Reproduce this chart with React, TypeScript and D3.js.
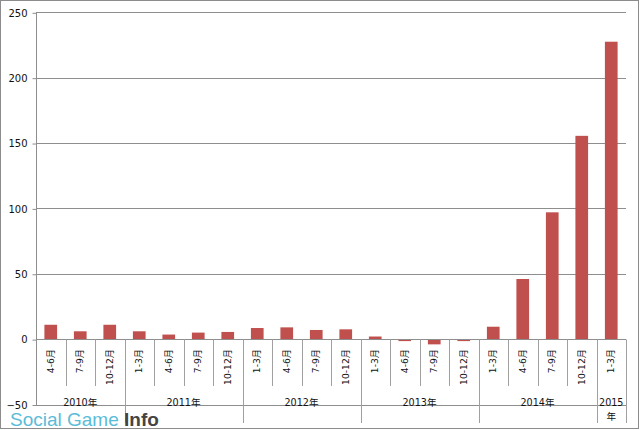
import { useEffect, useRef } from 'react';
import * as d3 from 'd3';

// quarter labels (x axis, inner level)
const quarters = [
    '4-6月', '7-9月', '10-12月',
    '1-3月', '4-6月', '7-9月', '10-12月',
    '1-3月', '4-6月', '7-9月', '10-12月',
    '1-3月', '4-6月', '7-9月', '10-12月',
    '1-3月', '4-6月', '7-9月', '10-12月',
    '1-3月',
];

// values per quarter
const values = [
    11, 6, 11,
    6, 3.5, 5, 5.5,
    8.5, 9, 7, 7.5,
    2, -1.5, -4, -1.5,
    9.5, 46, 97, 155.5,
    227.5,
];

// year groups (outer level) and how many quarters each spans
const years = ['2010年', '2011年', '2012年', '2013年', '2014年', '2015年'];
const yearSpans = [3, 4, 4, 4, 4, 1];

const yTicks = [-50, 0, 50, 100, 150, 200, 250];

const QuarterlyChart: React.FC = () => {
    const chartRef = useRef<SVGSVGElement>(null);

    useEffect(() => {
        if (chartRef.current) {
            createChart();
        }
    }, []);

    const createChart = () => {
        const svg = d3.select(chartRef.current);
        svg.selectAll('*').remove();

        const width = 640;
        const height = 430;
        const margin = { top: 12, right: 14, left: 36 };
        const font = "'DejaVu Sans', 'Noto Sans CJK JP', sans-serif";

        svg.attr('width', width).attr('height', height);

        svg.append('rect')
            .attr('x', 0.5).attr('y', 0.5)
            .attr('width', 638).attr('height', 428)
            .attr('fill', '#fff')
            .attr('stroke', '#8c8c8c');

        const idx = quarters.map((_, i) => i);
        const xScale = d3
            .scaleBand<number>()
            .domain(idx)
            .range([margin.left, width - margin.right])
            .paddingInner(0.57)
            .paddingOuter(0.285);
        const step = xScale.step();
        const x0 = margin.left;

        const yScale = d3.scaleLinear().domain([-50, 250]).range([404.5, 12.3]);
        const y0 = Math.round(yScale(0)) + 0.5;

        // gridlines
        svg.append('g')
            .selectAll('line')
            .data(yTicks)
            .enter()
            .append('line')
            .attr('x1', x0)
            .attr('x2', width - margin.right)
            .attr('y1', (d) => Math.round(yScale(d)) + 0.5)
            .attr('y2', (d) => Math.round(yScale(d)) + 0.5)
            .attr('stroke', '#8e8e8e')
            .attr('stroke-width', 1);

        // y axis
        const yAxis = d3.axisLeft(yScale).tickValues(yTicks).tickSize(4).tickPadding(5);
        const gy = svg.append('g')
            .attr('transform', `translate(${x0 + 0.5}, 0.5)`)
            .call(yAxis);
        gy.select('.domain').attr('stroke', '#8e8e8e').attr('d', `M0,${yScale(250)}V${yScale(-50)}`);
        gy.selectAll('.tick line').attr('stroke', '#8e8e8e');
        gy.selectAll('.tick text')
            .attr('font-family', font)
            .attr('font-size', 10)
            .attr('fill', '#111');

        // bars
        svg.append('g')
            .selectAll('rect')
            .data(values)
            .enter()
            .append('rect')
            .attr('x', (_, i) => xScale(i) || 0)
            .attr('y', (d) => yScale(Math.max(0, d)))
            .attr('width', xScale.bandwidth())
            .attr('height', (d) => Math.abs(yScale(d) - yScale(0)))
            .attr('fill', '#c0504d');

        // zero line on top
        svg.append('line')
            .attr('x1', x0).attr('x2', width - margin.right)
            .attr('y1', y0).attr('y2', y0)
            .attr('stroke', '#8e8e8e');

        // category separators
        const yearBounds = new Set<number>();
        let acc = 0;
        yearSpans.forEach((s) => { acc += s; yearBounds.add(acc); });
        const seps = d3.range(1, quarters.length + 1);
        svg.append('g')
            .selectAll('line')
            .data(seps)
            .enter()
            .append('line')
            .attr('x1', (i) => Math.round(x0 + i * step) + 0.5)
            .attr('x2', (i) => Math.round(x0 + i * step) + 0.5)
            .attr('y1', y0)
            .attr('y2', (i) => (yearBounds.has(i) ? 423 : 386))
            .attr('stroke', '#a0a0a0');

        // quarter labels
        svg.append('g')
            .selectAll('text')
            .data(quarters)
            .enter()
            .append('text')
            .attr('transform', (_, i) => `translate(${(xScale(i) || 0) + xScale.bandwidth() / 2},349) rotate(-90)`)
            .attr('dy', '0.35em')
            .attr('text-anchor', 'end')
            .attr('font-family', font)
            .attr('font-size', 9.2)
            .attr('fill', '#111')
            .text((d) => d);

        // year labels
        let start = 0;
        const yearG = svg.append('g');
        years.forEach((yr, k) => {
            const cx = x0 + (start + yearSpans[k] / 2) * step;
            const t = yearG.append('text')
                .attr('x', cx)
                .attr('y', 405.5)
                .attr('text-anchor', 'middle')
                .attr('font-family', font)
                .attr('font-size', 9.6)
                .attr('fill', '#111');
            if (yearSpans[k] === 1) {
                t.append('tspan').attr('x', cx).text(yr.slice(0, 4));
                t.append('tspan').attr('x', cx).attr('dy', 14).text(yr.slice(4));
            } else {
                t.text(yr);
            }
            start += yearSpans[k];
        });

        // watermark
        const wm = svg.append('text')
            .attr('x', 10)
            .attr('y', 426)
            .attr('font-family', "'Liberation Sans', Arial, sans-serif")
            .attr('font-size', 19);
        wm.append('tspan').attr('fill', '#5bbcd8').attr('font-weight', 300).text('Social Game ');
        wm.append('tspan').attr('fill', '#444').attr('font-weight', 'bold').text('Info');
    };

    return <svg ref={chartRef} style={{ position: 'absolute', left: 0, top: 0 }} />;
};

export default function App() {
    return <QuarterlyChart />;
}
